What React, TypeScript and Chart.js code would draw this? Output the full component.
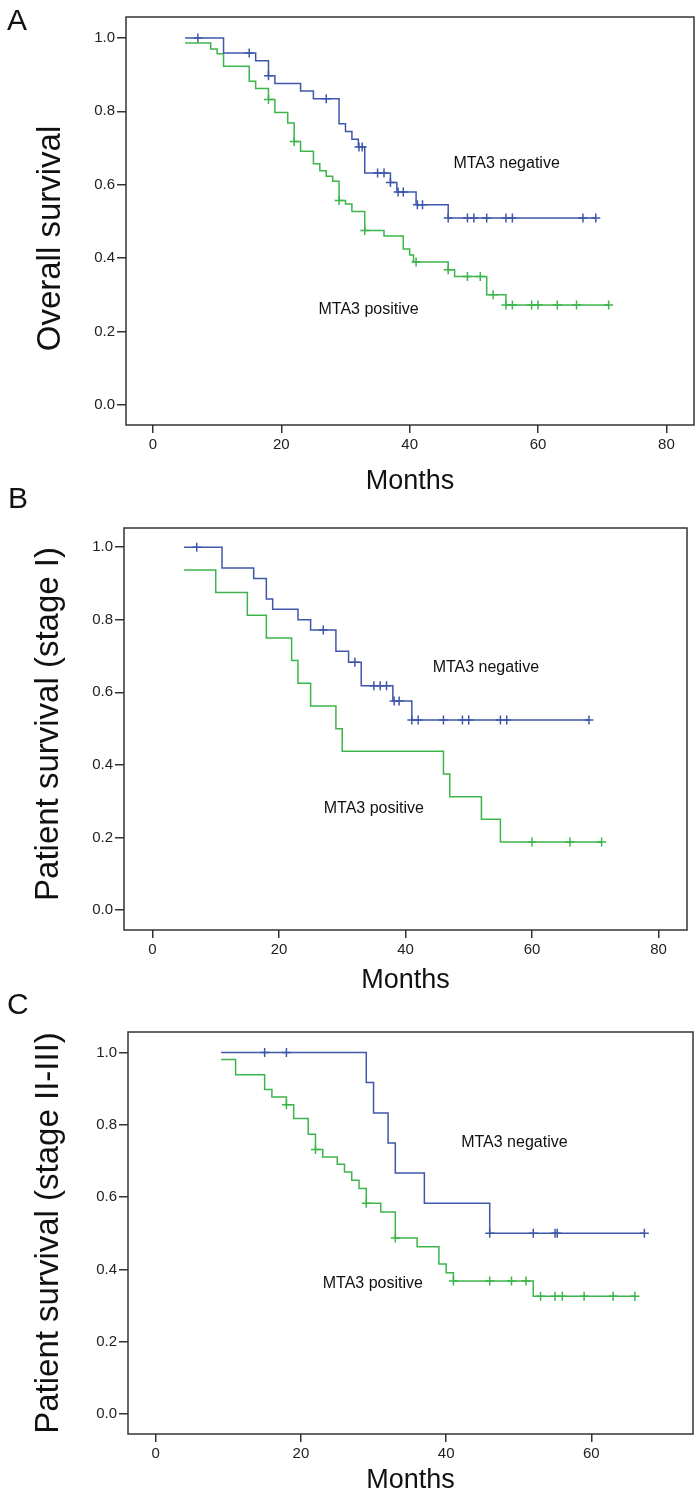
import { useEffect, useRef } from 'react';
import { Chart, registerables } from 'chart.js';

Chart.register(...registerables);

// ---------- data ----------
const groupLabels = ['MTA3 negative', 'MTA3 positive'];
const xTicksAB = [0, 20, 40, 60, 80];
const xTicksC = [0, 20, 40, 60];
const yTicks = [0, 0.2, 0.4, 0.6, 0.8, 1.0];

// Panel A: overall survival
const aNegTimes = [5, 11, 16, 18, 19, 23, 25, 29, 30, 31, 32, 33, 37, 38, 41, 46];
const aNegSurv = [1.0, 0.959, 0.938, 0.897, 0.876, 0.855, 0.834, 0.766, 0.745, 0.724, 0.703, 0.632, 0.606, 0.58, 0.545, 0.509];
const aNegCensor = [7, 15, 18, 27, 32.1, 32.6, 35, 36, 37, 38.2, 39, 41.2, 42, 46, 49, 50, 52, 55, 56, 67, 69];
const aPosTimes = [5, 9, 10, 11, 15, 16, 18, 19, 21, 22, 23, 25, 26, 27, 28, 29, 30, 31, 33, 36, 39, 40, 40.6, 46, 47, 52, 55];
const aPosSurv = [0.986, 0.97, 0.957, 0.923, 0.882, 0.862, 0.832, 0.797, 0.768, 0.718, 0.691, 0.657, 0.638, 0.623, 0.609, 0.557, 0.547, 0.527, 0.475, 0.46, 0.425, 0.408, 0.389, 0.368, 0.35, 0.3, 0.272];
const aPosCensor = [18, 22, 29, 33, 41, 46, 49, 51, 53, 55, 56, 59, 60, 63, 66, 71];

// Panel B: stage I
const bNegTimes = [5, 11, 16, 18, 19, 23, 25, 29, 31, 33, 38, 41];
const bNegSurv = [1.0, 0.943, 0.914, 0.857, 0.829, 0.8, 0.772, 0.713, 0.683, 0.618, 0.576, 0.524];
const bNegCensor = [7, 27, 32, 35, 36, 37, 38.2, 39, 41, 42, 46, 49, 50, 55, 56, 69];
const bPosTimes = [5, 10, 15, 18, 22, 23, 25, 29, 30, 46, 47, 52, 55];
const bPosSurv = [0.9375, 0.875, 0.8125, 0.75, 0.6875, 0.625, 0.5625, 0.5, 0.4375, 0.375, 0.3125, 0.25, 0.1875];
const bPosCensor = [60, 66, 71];

// Panel C: stage II-III
const cNegTimes = [9, 29, 30, 32, 33, 37, 46];
const cNegSurv = [1.0, 0.917, 0.833, 0.75, 0.667, 0.583, 0.5];
const cNegCensor = [15, 18, 46, 52, 55, 55.3, 67.3];
const cPosTimes = [9, 11, 15, 16, 18, 19, 21, 22, 23, 25, 26, 27, 28, 29, 31, 33, 36, 39, 40, 41, 52];
const cPosSurv = [0.981, 0.939, 0.898, 0.877, 0.856, 0.818, 0.774, 0.732, 0.711, 0.691, 0.67, 0.647, 0.624, 0.583, 0.559, 0.487, 0.463, 0.415, 0.391, 0.368, 0.326];
const cPosCensor = [18, 22, 29, 33, 41, 46, 49, 51, 53, 55, 56, 59, 63, 66];

// ---------- styling / layout ----------
const FONT = '"Liberation Sans", Arial, Helvetica, sans-serif';
const BLUE = '#3f57a9';
const GREEN = '#3cb54b';
const AXIS = '#333333';

function survAt(times: number[], surv: number[], t: number) {
  let s = surv[0];
  for (let i = 0; i < times.length; i++) if (times[i] <= t + 1e-9) s = surv[i];
  return s;
}
function curve(times: number[], surv: number[], censor: number[]) {
  const pts = times.map((t, i) => ({ x: t, y: surv[i] }));
  const end = Math.max(times[times.length - 1], ...censor);
  pts.push({ x: end, y: surv[surv.length - 1] });
  return pts;
}
function marks(times: number[], surv: number[], censor: number[]) {
  return censor.map((c) => ({ x: c, y: survAt(times, surv, c) }));
}

const panels = [
  {
    letter: 'A', top: 0, height: 500, yTitle: 'Overall survival', yTitleX: 50.5, yTitleY: 238.5,
    letterX: 7, letterY: 30, padTop: 17, padRight: 6, yWidth: 126, xHeight: 75, monthsPad: 4.5,
    xMin: -4.2, xMax: 84.3, yMin: -0.055, yMax: 1.057, ticks: xTicksAB,
    neg: [aNegTimes, aNegSurv, aNegCensor], pos: [aPosTimes, aPosSurv, aPosCensor],
    negLabel: [55.1, 0.657], posLabel: [33.6, 0.259],
  },
  {
    letter: 'B', top: 484, height: 510, yTitle: 'Patient survival (stage I)', yTitleX: 49, yTitleY: 240,
    letterX: 8, letterY: 24, padTop: 44, padRight: 13, yWidth: 124, xHeight: 64, monthsPad: 0,
    xMin: -4.5, xMax: 84.5, yMin: -0.055, yMax: 1.053, ticks: xTicksAB,
    neg: [bNegTimes, bNegSurv, bNegCensor], pos: [bPosTimes, bPosSurv, bPosCensor],
    negLabel: [52.7, 0.668], posLabel: [35.0, 0.279],
  },
  {
    letter: 'C', top: 986, height: 511, yTitle: 'Patient survival (stage II-III)', yTitleX: 49, yTitleY: 247,
    letterX: 7, letterY: 28, padTop: 46, padRight: 7, yWidth: 128, xHeight: 63, monthsPad: 3,
    xMin: -3.82, xMax: 74.0, yMin: -0.055, yMax: 1.057, ticks: xTicksC,
    neg: [cNegTimes, cNegSurv, cNegCensor], pos: [cPosTimes, cPosSurv, cPosCensor],
    negLabel: [49.4, 0.752], posLabel: [29.9, 0.362],
  },
];

function makeChart(canvas: HTMLCanvasElement, p: any) {
  const [nt, ns, nc] = p.neg;
  const [pt, ps, pc] = p.pos;
  const decor = {
    id: 'decor',
    afterDraw(chart: any) {
      const { ctx, chartArea: a, scales } = chart;
      ctx.save();
      ctx.strokeStyle = AXIS;
      ctx.lineWidth = 1.5;
      ctx.strokeRect(a.left, a.top, a.right - a.left, a.bottom - a.top);
      ctx.fillStyle = '#111';
      // panel letter
      ctx.font = `30px ${FONT}`;
      ctx.textAlign = 'left';
      ctx.textBaseline = 'alphabetic';
      ctx.fillText(p.letter, p.letterX, p.letterY);
      // group labels
      ctx.font = `16px ${FONT}`;
      ctx.textAlign = 'center';
      ctx.textBaseline = 'middle';
      ctx.fillText(groupLabels[0], scales.x.getPixelForValue(p.negLabel[0]), scales.y.getPixelForValue(p.negLabel[1]));
      ctx.fillText(groupLabels[1], scales.x.getPixelForValue(p.posLabel[0]), scales.y.getPixelForValue(p.posLabel[1]));
      // y title
      ctx.translate(p.yTitleX, p.yTitleY);
      ctx.rotate(-Math.PI / 2);
      ctx.font = `33px ${FONT}`;
      ctx.fillText(p.yTitle, 0, 0);
      ctx.restore();
    },
  };
  const lineDs = (data: any, color: string) => ({
    data, borderColor: color, backgroundColor: color, borderWidth: 1.5, pointRadius: 0,
    stepped: 'before' as const, fill: false, tension: 0,
  });
  const censorDs = (data: any, color: string) => ({
    data, borderColor: color, backgroundColor: color, showLine: false, pointStyle: 'cross' as const,
    pointRadius: 4.5, pointBorderWidth: 1.5, pointBorderColor: color,
  });
  return new Chart(canvas, {
    type: 'line',
    data: {
      datasets: [
        lineDs(curve(nt, ns, nc), BLUE),
        lineDs(curve(pt, ps, pc), GREEN),
        censorDs(marks(nt, ns, nc), BLUE),
        censorDs(marks(pt, ps, pc), GREEN),
      ],
    },
    options: {
      responsive: false,
      animation: false,
      events: [],
      layout: { padding: { top: p.padTop, right: p.padRight, left: 0, bottom: 0 } },
      plugins: { legend: { display: false }, tooltip: { enabled: false } },
      scales: {
        x: {
          type: 'linear', min: p.xMin, max: p.xMax,
          afterBuildTicks: (s: any) => { s.ticks = p.ticks.map((v: number) => ({ value: v })); },
          afterFit: (s: any) => { s.height = p.xHeight; },
          grid: { display: true, drawOnChartArea: false, drawTicks: true, tickLength: 8, color: AXIS, lineWidth: 1.5 },
          border: { display: false },
          ticks: { font: { family: FONT, size: 15 }, color: '#222', padding: 3, maxRotation: 0, autoSkip: false, callback: (v: any) => String(v) },
          title: { display: true, text: 'Months', font: { family: FONT, size: 27, lineHeight: 1 }, color: '#111', padding: { top: 0, bottom: p.monthsPad } },
        },
        y: {
          type: 'linear', min: p.yMin, max: p.yMax,
          afterBuildTicks: (s: any) => { s.ticks = yTicks.map((v) => ({ value: v })); },
          afterFit: (s: any) => { s.width = p.yWidth; },
          grid: { display: true, drawOnChartArea: false, drawTicks: true, tickLength: 9, color: AXIS, lineWidth: 1.5 },
          border: { display: false },
          ticks: { font: { family: FONT, size: 15 }, color: '#222', padding: 2, autoSkip: false, callback: (v: any) => Number(v).toFixed(1) },
        },
      },
    },
    plugins: [decor],
  } as any);
}

export default function App() {
  const refs = [useRef<HTMLCanvasElement>(null), useRef<HTMLCanvasElement>(null), useRef<HTMLCanvasElement>(null)];
  useEffect(() => {
    const charts = panels.map((p, i) => makeChart(refs[i].current as HTMLCanvasElement, p));
    return () => charts.forEach((c) => c.destroy());
  }, []);
  return (
    <div style={{ position: 'absolute', left: 0, top: 0, width: 700, height: 1497, background: '#fff' }}>
      {panels.map((p, i) => (
        <canvas
          key={p.letter}
          ref={refs[i]}
          width={700}
          height={p.height}
          style={{ position: 'absolute', left: 0, top: p.top, width: 700, height: p.height }}
        />
      ))}
    </div>
  );
}
